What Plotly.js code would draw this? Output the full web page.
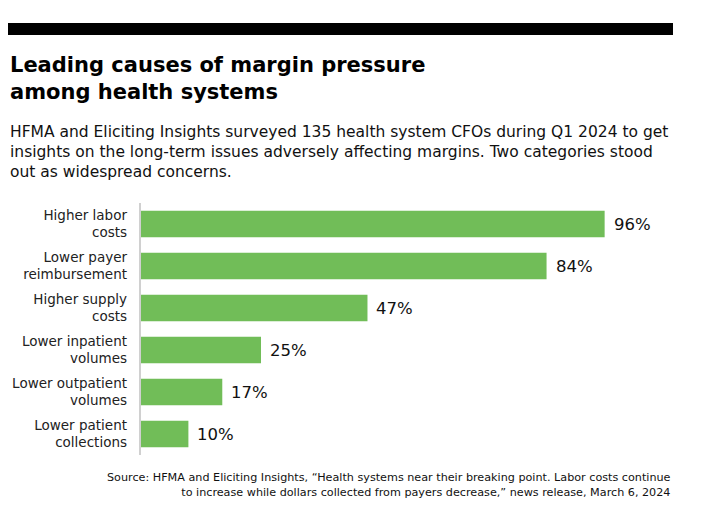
<!DOCTYPE html>
<html>
<head>
<meta charset="utf-8">
<script src="https://cdn.plot.ly/plotly-3.0.1.min.js"></script>
<style>html,body{margin:0;padding:0;background:#fff;}#chart{width:705px;height:518px;}</style>
</head>
<body>
<div id="chart"></div>
<script>
var categories = ["Higher labor<br>costs", "Lower payer<br>reimbursement", "Higher supply<br>costs", "Lower inpatient<br>volumes", "Lower outpatient<br>volumes", "Lower patient<br>collections"];
var values = [96, 84, 47, 25, 17, 10];
var valueLabels = ["96%", "84%", "47%", "25%", "17%", "10%"];

var W = 705, H = 518;
var M = {l: 140, r: 32, t: 203, b: 63};
var PW = W - M.l - M.r, PH = H - M.t - M.b;
function px(x) { return (x - M.l) / PW; }
function py(y) { return (H - M.b - y) / PH; }
var FONT = 'DejaVu Sans, sans-serif';

var trace = {
  type: 'bar',
  orientation: 'h',
  x: values,
  y: categories,
  marker: {color: '#71bd58'},
  width: 0.63,
  hoverinfo: 'none'
};

var annotations = values.map(function (v, i) {
  return {
    x: v, y: categories[i], xref: 'x', yref: 'y',
    text: valueLabels[i], showarrow: false,
    xanchor: 'left', yanchor: 'middle', xshift: 7,
    font: {family: FONT, size: 16.5, color: '#111'}
  };
});

annotations.push({
  xref: 'paper', yref: 'paper', x: px(8), y: py(78),
  xanchor: 'left', yanchor: 'middle', align: 'left', showarrow: false,
  text: '<b>Leading causes of margin pressure<br>among health systems</b>',
  font: {family: FONT, size: 21, color: '#000'}
});
annotations.push({
  xref: 'paper', yref: 'paper', x: px(8), y: py(152),
  xanchor: 'left', yanchor: 'middle', align: 'left', showarrow: false,
  text: 'HFMA and Eliciting Insights surveyed 135 health system CFOs during Q1 2024 to get<br>insights on the long-term issues adversely affecting margins. Two categories stood<br>out as widespread concerns.',
  font: {family: FONT, size: 15.5, color: '#111'}
});
annotations.push({
  xref: 'paper', yref: 'paper', x: px(673), y: py(485),
  xanchor: 'right', yanchor: 'middle', align: 'right', showarrow: false,
  text: 'Source: HFMA and Eliciting Insights, \u201cHealth systems near their breaking point. Labor costs continue<br>to increase while dollars collected from payers decrease,\u201d news release, March 6, 2024',
  font: {family: FONT, size: 11.2, color: '#111'}
});

var layout = {
  width: W, height: H,
  margin: M,
  paper_bgcolor: '#fff', plot_bgcolor: '#fff',
  showlegend: false,
  xaxis: {range: [0, PW / 4.84], visible: false, fixedrange: true},
  yaxis: {
    autorange: 'reversed', showgrid: false, zeroline: false,
    showline: false, ticks: '', ticklabelstandoff: 12,
    tickfont: {family: FONT, size: 13.5, color: '#222'},
    fixedrange: true
  },
  shapes: [
    {type: 'rect', xref: 'paper', yref: 'paper', x0: px(8), x1: px(673), y0: py(35), y1: py(23), fillcolor: '#000', line: {width: 0}},
    {type: 'line', xref: 'paper', yref: 'paper', x0: 0, x1: 0, y0: 0, y1: 1, line: {color: '#d0d0d0', width: 2}}
  ],
  annotations: annotations
};

Plotly.newPlot('chart', [trace], layout, {displayModeBar: false, staticPlot: true});
</script>
</body>
</html>
